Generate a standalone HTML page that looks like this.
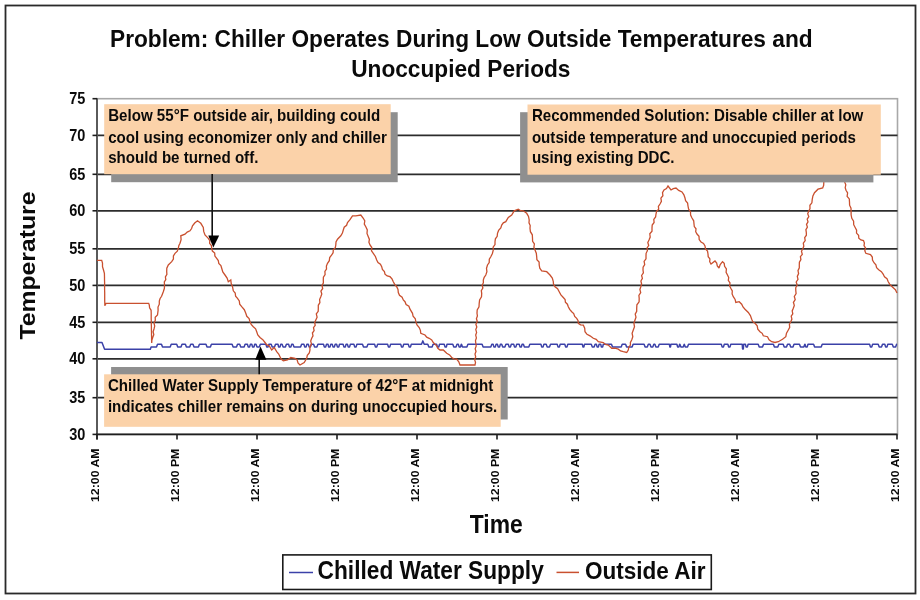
<!DOCTYPE html>
<html><head><meta charset="utf-8"><style>
html,body{margin:0;padding:0;background:#fff;width:920px;height:600px;overflow:hidden}
svg{display:block;filter:blur(0.4px)}
text{font-family:"Liberation Sans",sans-serif;font-weight:bold;fill:#0a0a0a}
</style></head><body>
<svg width="920" height="600" viewBox="0 0 920 600">
<rect x="0" y="0" width="920" height="600" fill="#fff"/>
<rect x="5.5" y="5.5" width="910" height="588" fill="none" stroke="#2a2a2a" stroke-width="1.8"/>
<rect x="97" y="98.7" width="800.5" height="335.7" fill="none" stroke="#a8a8a8" stroke-width="1.6"/>
<line x1="97" x2="897.5" y1="397.7" y2="397.7" stroke="#2c2c2c" stroke-width="1.7"/>
<line x1="97" x2="897.5" y1="358.8" y2="358.8" stroke="#2c2c2c" stroke-width="1.7"/>
<line x1="97" x2="897.5" y1="322.3" y2="322.3" stroke="#2c2c2c" stroke-width="1.7"/>
<line x1="97" x2="897.5" y1="285.4" y2="285.4" stroke="#2c2c2c" stroke-width="1.7"/>
<line x1="97" x2="897.5" y1="248.8" y2="248.8" stroke="#2c2c2c" stroke-width="1.7"/>
<line x1="97" x2="897.5" y1="210.8" y2="210.8" stroke="#2c2c2c" stroke-width="1.7"/>
<line x1="97" x2="897.5" y1="174.3" y2="174.3" stroke="#2c2c2c" stroke-width="1.7"/>
<line x1="97" x2="897.5" y1="135.4" y2="135.4" stroke="#2c2c2c" stroke-width="1.7"/>
<line x1="97" x2="97" y1="98.2" y2="439.4" stroke="#555" stroke-width="1.9"/>
<line x1="96" x2="897.5" y1="434.4" y2="434.4" stroke="#1e1e1e" stroke-width="1.8"/>
<line x1="92.5" x2="97" y1="434.4" y2="434.4" stroke="#1e1e1e" stroke-width="1.6"/>
<line x1="92.5" x2="97" y1="397.7" y2="397.7" stroke="#1e1e1e" stroke-width="1.6"/>
<line x1="92.5" x2="97" y1="358.8" y2="358.8" stroke="#1e1e1e" stroke-width="1.6"/>
<line x1="92.5" x2="97" y1="322.3" y2="322.3" stroke="#1e1e1e" stroke-width="1.6"/>
<line x1="92.5" x2="97" y1="285.4" y2="285.4" stroke="#1e1e1e" stroke-width="1.6"/>
<line x1="92.5" x2="97" y1="248.8" y2="248.8" stroke="#1e1e1e" stroke-width="1.6"/>
<line x1="92.5" x2="97" y1="210.8" y2="210.8" stroke="#1e1e1e" stroke-width="1.6"/>
<line x1="92.5" x2="97" y1="174.3" y2="174.3" stroke="#1e1e1e" stroke-width="1.6"/>
<line x1="92.5" x2="97" y1="135.4" y2="135.4" stroke="#1e1e1e" stroke-width="1.6"/>
<line x1="92.5" x2="97" y1="98.7" y2="98.7" stroke="#1e1e1e" stroke-width="1.6"/>
<line x1="97.0" x2="97.0" y1="434.4" y2="439.4" stroke="#1e1e1e" stroke-width="1.6"/>
<line x1="177.0" x2="177.0" y1="434.4" y2="439.4" stroke="#1e1e1e" stroke-width="1.6"/>
<line x1="257.0" x2="257.0" y1="434.4" y2="439.4" stroke="#1e1e1e" stroke-width="1.6"/>
<line x1="337.0" x2="337.0" y1="434.4" y2="439.4" stroke="#1e1e1e" stroke-width="1.6"/>
<line x1="417.0" x2="417.0" y1="434.4" y2="439.4" stroke="#1e1e1e" stroke-width="1.6"/>
<line x1="497.0" x2="497.0" y1="434.4" y2="439.4" stroke="#1e1e1e" stroke-width="1.6"/>
<line x1="577.0" x2="577.0" y1="434.4" y2="439.4" stroke="#1e1e1e" stroke-width="1.6"/>
<line x1="657.0" x2="657.0" y1="434.4" y2="439.4" stroke="#1e1e1e" stroke-width="1.6"/>
<line x1="737.0" x2="737.0" y1="434.4" y2="439.4" stroke="#1e1e1e" stroke-width="1.6"/>
<line x1="817.0" x2="817.0" y1="434.4" y2="439.4" stroke="#1e1e1e" stroke-width="1.6"/>
<line x1="897.0" x2="897.0" y1="434.4" y2="439.4" stroke="#1e1e1e" stroke-width="1.6"/>
<path d="M97.0 342.4 L102.0 342.4 L104.6 349.2 L150.3 349.2 L151.1 346.9 L156.5 346.9 L157.5 344.2 L161.5 344.2 L162.5 346.9 L170.2 346.9 L171.2 344.2 L176.7 344.2 L177.7 346.9 L181.0 346.9 L182.0 344.2 L185.4 344.2 L186.4 346.9 L189.7 346.9 L190.7 344.2 L193.0 344.2 L194.0 346.9 L198.4 346.9 L199.4 344.2 L206.0 344.2 L207.0 346.9 L210.4 346.9 L211.4 344.2 L232.1 344.2 L233.1 346.9 L236.5 346.9 L237.5 344.2 L239.7 344.2 L240.7 346.9 L244.1 346.9 L245.1 344.2 L247.4 344.2 L248.2 346.9 L249.6 346.9 L250.4 344.2 L251.8 344.2 L252.5 346.9 L254.0 346.9 L254.7 344.2 L256.0 344.2 L257.0 346.9 L259.3 346.9 L260.3 344.2 L265.9 344.2 L266.7 346.9 L268.1 346.9 L268.9 344.2 L271.2 344.2 L272.2 346.9 L274.5 346.9 L275.5 344.2 L278.0 344.2 L278.6 346.9 L280.0 346.9 L280.8 344.2 L282.1 344.2 L283.1 346.9 L285.4 346.9 L286.4 344.2 L288.6 344.2 L289.4 346.9 L290.9 346.9 L291.7 344.2 L293.0 344.2 L294.0 346.9 L300.6 346.9 L301.6 344.2 L303.9 344.2 L304.7 346.9 L306.1 346.9 L306.9 344.2 L308.3 344.2 L309.1 346.9 L310.5 346.9 L311.3 344.2 L313.6 344.2 L314.6 346.9 L316.9 346.9 L317.9 344.2 L323.5 344.2 L324.3 346.9 L325.7 346.9 L326.5 344.2 L328.0 344.2 L328.6 346.9 L330.0 346.9 L330.8 344.2 L332.2 344.2 L333.0 346.9 L334.4 346.9 L335.2 344.2 L336.6 344.2 L337.4 346.9 L338.8 346.9 L339.5 344.2 L343.1 344.2 L343.9 346.9 L345.3 346.9 L346.1 344.2 L347.4 344.2 L348.2 346.9 L349.6 346.9 L350.4 344.2 L353.9 344.2 L354.7 346.9 L356.1 346.9 L356.9 344.2 L362.5 344.2 L363.5 346.9 L366.9 346.9 L367.9 344.2 L374.6 344.2 L375.4 346.9 L376.8 346.9 L377.6 344.2 L387.6 344.2 L388.4 346.9 L389.8 346.9 L390.6 344.2 L400.7 344.2 L401.5 346.9 L402.9 346.9 L403.7 344.2 L408.3 344.2 L409.1 346.9 L410.5 346.9 L411.3 344.2 L421.5 344.2 L422.8 340.9 L424.2 344.2 L427.8 344.2 L428.8 346.9 L432.1 346.9 L433.1 344.2 L436.6 344.2 L437.4 346.9 L438.8 346.9 L439.5 344.2 L444.2 344.2 L445.0 346.9 L446.4 346.9 L447.0 344.2 L452.8 344.2 L453.8 346.9 L456.0 346.9 L457.0 344.2 L458.3 344.2 L459.1 346.9 L460.5 346.9 L461.3 344.2 L461.5 344.2 L462.5 346.9 L466.9 346.9 L467.9 344.2 L482.1 344.2 L483.1 346.9 L490.8 346.9 L491.8 344.2 L493.1 344.2 L493.9 346.9 L495.3 346.9 L496.1 344.2 L497.4 344.2 L498.2 346.9 L499.6 346.9 L500.4 344.2 L501.7 344.2 L502.7 346.9 L504.9 346.9 L505.9 344.2 L508.3 344.2 L509.1 346.9 L510.5 346.9 L511.3 344.2 L513.7 344.2 L514.5 346.9 L515.9 346.9 L516.7 344.2 L519.2 344.2 L520.0 346.9 L521.4 346.9 L522.1 344.2 L523.4 344.2 L524.4 346.9 L528.8 346.9 L529.8 344.2 L540.9 344.2 L541.7 346.9 L543.1 346.9 L543.9 344.2 L546.2 344.2 L547.2 346.9 L549.5 346.9 L550.5 344.2 L557.2 344.2 L558.0 346.9 L559.4 346.9 L560.2 344.2 L564.8 344.2 L565.6 346.9 L567.0 346.9 L567.8 344.2 L582.3 344.2 L582.9 346.9 L583.9 346.9 L584.5 344.2 L591.3 344.2 L592.3 346.9 L594.1 346.9 L595.1 344.2 L596.4 344.2 L597.1 346.9 L598.4 346.9 L599.1 344.2 L600.7 344.2 L601.3 346.9 L602.7 346.9 L603.3 344.2 L611.5 344.2 L612.5 346.9 L621.2 346.9 L622.2 344.2 L625.6 344.2 L626.6 346.9 L632.1 346.9 L633.1 344.2 L644.1 344.2 L645.1 346.9 L647.3 346.9 L648.3 344.2 L650.0 344.2 L651.0 346.9 L652.8 346.9 L653.8 344.2 L654.9 344.2 L655.9 346.9 L658.2 346.9 L659.2 344.2 L669.4 344.2 L669.8 346.9 L670.5 346.9 L670.9 344.2 L676.9 344.2 L677.6 346.9 L678.9 346.9 L679.6 344.2 L679.9 344.2 L680.9 346.9 L683.2 346.9 L684.2 344.2 L684.3 344.2 L685.3 346.9 L687.5 346.9 L688.5 344.2 L721.3 344.2 L722.1 346.9 L723.5 346.9 L724.3 344.2 L727.9 344.2 L728.6 346.9 L730.0 346.9 L730.8 344.2 L742.2 344.2 L742.6 349.0 L743.3 349.0 L743.7 344.2 L745.4 344.2 L746.1 346.9 L747.4 346.9 L748.1 344.2 L758.2 344.2 L759.2 346.9 L762.5 346.9 L763.5 344.2 L773.4 344.2 L774.4 346.9 L777.8 346.9 L778.8 344.2 L783.2 344.2 L784.2 346.9 L786.5 346.9 L787.5 344.2 L789.7 344.2 L790.7 346.9 L793.0 346.9 L794.0 344.2 L799.5 344.2 L800.5 346.9 L803.8 346.9 L804.8 344.2 L805.0 344.2 L805.8 346.9 L807.2 346.9 L808.0 344.2 L813.6 344.2 L814.6 346.9 L821.2 346.9 L822.2 344.2 L869.6 344.2 L870.4 346.9 L871.8 346.9 L872.6 344.2 L878.2 344.2 L879.2 346.9 L881.5 346.9 L882.5 344.2 L884.8 344.2 L885.6 346.9 L887.0 346.9 L887.8 344.2 L892.3 344.2 L893.3 346.9 L895.6 346.9 L896.6 344.2 L897.0 344.2" fill="none" stroke="#3b41a8" stroke-width="1.5" stroke-linejoin="round"/>
<path d="M97.0 260.3 L101.7 260.3 L102.5 263.0 L102.5 266.6 L103.5 270.0 L104.4 273.4 L104.5 277.0 L104.5 279.6 L104.6 282.2 L104.6 284.9 L104.6 287.5 L104.6 290.1 L104.7 292.7 L104.7 295.3 L104.7 297.9 L104.7 300.6 L104.8 303.2 L104.8 305.8 L106.0 303.4 L108.7 303.4 L111.3 303.4 L114.0 303.4 L116.7 303.4 L119.3 303.4 L122.0 303.4 L124.7 303.4 L127.3 303.4 L130.0 303.4 L132.7 303.4 L135.4 303.4 L138.0 303.4 L140.7 303.4 L143.4 303.4 L146.0 303.4 L148.7 303.4 L149.3 305.1 L149.6 307.9 L151.1 310.3 L151.2 313.0 L151.2 315.8 L151.2 318.5 L151.3 321.2 L151.3 323.9 L151.4 326.6 L151.4 329.4 L151.5 332.1 L151.5 334.8 L151.6 337.6 L151.6 340.3 L151.7 343.0 L151.9 340.0 L152.8 337.2 L153.8 334.6 L153.1 331.7 L154.0 329.0 L154.7 326.1 L154.0 323.1 L155.3 320.3 L155.2 317.3 L157.5 315.0 L158.1 310.3 L158.0 307.1 L159.3 304.2 L159.3 301.0 L160.1 298.5 L161.6 296.3 L163.3 291.7 L164.4 288.3 L164.5 284.7 L164.3 282.0 L165.8 279.6 L165.4 276.8 L166.9 274.4 L166.7 271.7 L166.8 268.2 L168.3 265.0 L171.7 261.7 L173.4 259.1 L173.4 255.9 L175.0 253.3 L177.3 251.2 L178.3 248.3 L178.8 245.7 L180.0 243.3 L181.1 239.6 L180.8 235.8 L185.0 234.2 L187.2 232.1 L190.0 230.8 L191.6 228.5 L192.5 225.8 L194.7 223.0 L197.5 220.8 L200.8 223.3 L203.3 227.5 L203.7 231.4 L205.0 235.0 L208.3 238.3 L209.8 240.6 L209.6 243.4 L211.4 245.6 L211.7 248.3 L212.4 251.1 L214.7 253.1 L214.9 256.1 L216.7 258.3 L218.3 260.6 L218.8 263.5 L220.9 265.6 L221.7 268.3 L222.8 271.9 L225.0 275.0 L227.1 278.1 L228.3 281.7 L230.8 280.0 L231.2 283.5 L232.5 286.7 L233.3 290.8 L235.2 293.0 L235.6 296.1 L237.5 298.3 L239.3 300.9 L239.7 304.2 L241.7 306.7 L244.3 309.7 L245.8 313.3 L246.8 316.3 L249.1 318.6 L250.0 321.7 L251.2 324.5 L253.3 326.7 L255.6 328.8 L256.7 331.7 L257.8 334.9 L260.0 337.5 L262.8 339.7 L265.0 342.5 L266.6 344.7 L269.2 345.8 L271.7 350.0 L274.2 347.5 L276.7 351.7 L278.7 354.0 L280.0 356.7 L281.2 359.1 L283.3 360.8 L287.5 360.0 L290.8 357.5 L295.0 358.3 L297.2 360.1 L298.0 363.0 L300.0 365.0 L304.2 362.5 L306.7 358.3 L307.3 355.3 L309.3 352.9 L310.0 350.0 L309.8 347.0 L311.5 344.2 L310.7 341.1 L311.7 338.3 L313.0 335.8 L312.4 333.0 L314.1 330.6 L313.5 327.7 L315.2 325.4 L314.7 322.5 L315.8 320.0 L317.1 317.2 L316.3 314.0 L318.2 311.3 L318.3 308.3 L318.3 305.3 L319.9 302.6 L319.6 299.5 L320.8 296.7 L321.8 294.0 L320.9 291.0 L322.7 288.5 L322.0 285.5 L323.4 282.9 L323.3 280.0 L323.4 277.1 L325.1 274.5 L324.9 271.5 L326.5 269.0 L326.4 266.0 L327.5 263.3 L329.3 260.7 L329.7 257.5 L331.7 255.0 L333.1 252.7 L333.3 249.8 L335.3 247.7 L335.8 245.0 L336.0 241.9 L337.5 239.2 L340.8 235.8 L342.4 233.1 L343.3 230.0 L344.2 227.2 L346.6 225.3 L347.5 222.5 L350.0 219.7 L352.5 215.8 L355.8 215.8 L360.8 215.0 L363.3 218.3 L364.8 220.9 L364.3 224.1 L365.8 226.7 L367.3 229.9 L367.0 233.5 L368.3 236.7 L369.4 239.4 L368.9 242.3 L370.0 245.0 L371.8 247.5 L371.5 250.8 L373.3 253.3 L375.4 256.5 L376.7 260.0 L378.0 262.5 L380.4 264.2 L381.7 266.7 L382.4 269.4 L384.4 271.5 L385.0 274.2 L387.2 276.0 L390.0 276.7 L392.0 278.9 L393.3 281.7 L394.7 284.4 L396.7 286.7 L398.0 289.5 L398.3 292.5 L399.5 295.3 L402.1 297.2 L403.3 300.0 L405.0 301.7 L406.1 304.6 L408.9 306.3 L410.0 309.2 L412.5 313.3 L413.1 316.3 L415.3 318.7 L415.8 321.7 L417.0 324.9 L419.2 327.5 L420.4 330.3 L420.8 333.3 L425.0 335.0 L426.7 337.2 L429.2 338.3 L431.7 339.9 L433.3 342.5 L436.7 345.8 L437.8 348.3 L440.0 350.0 L443.3 350.0 L446.7 353.3 L449.6 354.9 L451.7 357.5 L454.0 358.8 L456.7 359.2 L458.8 361.8 L460.0 365.0 L463.0 365.0 L466.0 365.0 L469.0 365.0 L472.0 365.0 L475.0 365.0 L475.5 362.3 L474.6 359.6 L475.7 356.9 L475.0 354.1 L476.0 351.5 L475.2 348.7 L476.2 346.0 L475.8 343.3 L475.5 340.6 L476.4 337.9 L475.7 335.1 L476.6 332.4 L475.8 329.6 L476.8 327.0 L475.9 324.2 L477.3 321.5 L476.4 318.7 L477.4 316.0 L477.0 313.3 L477.2 309.9 L479.0 306.7 L479.2 303.3 L479.6 299.9 L481.5 296.8 L481.7 293.3 L481.3 290.6 L482.9 288.0 L482.1 285.3 L483.4 282.7 L483.3 280.0 L484.2 277.3 L485.8 275.0 L486.9 271.8 L486.5 268.3 L487.5 265.0 L489.2 262.5 L489.3 259.3 L490.8 256.7 L492.4 253.5 L493.3 250.0 L493.1 247.1 L495.0 244.6 L495.0 241.7 L495.4 238.8 L497.2 236.3 L497.5 233.3 L498.6 230.4 L500.8 228.0 L501.7 225.0 L503.3 222.8 L505.8 221.7 L508.3 217.5 L511.7 215.0 L514.2 210.8 L518.3 209.2 L520.6 210.7 L523.3 210.8 L526.7 213.3 L528.5 216.4 L529.2 220.0 L529.0 222.8 L530.2 225.5 L530.0 228.3 L530.4 231.7 L532.3 234.8 L532.5 238.3 L532.6 241.3 L534.4 244.0 L533.9 247.2 L535.0 250.0 L536.3 253.2 L536.7 256.7 L536.9 259.7 L539.1 262.0 L539.2 265.0 L539.8 268.2 L541.7 270.8 L546.7 271.7 L550.0 275.0 L552.3 278.1 L553.3 281.7 L553.5 284.4 L555.0 286.7 L557.6 288.8 L559.2 291.7 L560.9 294.9 L563.3 297.5 L565.1 299.5 L565.4 302.3 L567.4 304.2 L568.3 306.7 L569.7 309.4 L571.7 311.7 L573.7 313.6 L574.7 316.4 L576.7 318.3 L578.1 320.6 L578.3 323.3 L580.6 324.8 L583.3 325.0 L584.7 328.2 L585.0 331.7 L587.0 334.3 L590.0 335.8 L593.3 338.3 L596.2 339.4 L598.3 341.7 L603.3 342.5 L605.5 344.4 L608.3 345.0 L611.7 348.3 L615.1 348.2 L618.3 349.2 L620.6 350.9 L623.3 351.7 L626.7 352.5 L628.3 350.0 L628.7 347.4 L630.4 345.1 L630.4 342.4 L631.7 340.0 L632.8 336.8 L632.1 333.2 L633.3 330.0 L634.5 326.8 L633.9 323.2 L635.0 320.0 L636.0 317.2 L635.2 314.1 L636.7 311.3 L636.7 308.3 L636.9 304.8 L639.1 301.8 L639.2 298.3 L638.9 295.3 L640.7 292.6 L639.9 289.5 L640.8 286.7 L641.6 284.0 L640.9 281.0 L642.4 278.4 L641.6 275.5 L643.4 272.9 L643.0 270.0 L643.1 267.1 L644.7 264.5 L644.1 261.4 L646.0 258.9 L646.0 256.0 L646.1 253.3 L647.4 250.7 L647.1 247.9 L648.7 245.5 L647.8 242.5 L649.0 240.0 L650.2 237.1 L649.8 233.8 L652.0 231.2 L652.0 228.0 L652.2 225.0 L654.1 222.5 L653.8 219.4 L655.6 216.9 L656.0 214.0 L656.6 211.4 L658.7 209.3 L658.4 206.3 L660.0 204.0 L661.4 201.4 L660.9 198.2 L662.9 195.7 L662.5 192.6 L664.0 190.0 L666.5 188.5 L668.0 186.0 L671.0 190.0 L673.3 188.6 L676.0 188.0 L678.7 190.4 L682.0 192.0 L683.9 194.8 L685.0 198.0 L685.6 200.8 L687.6 203.1 L688.0 206.0 L688.6 209.1 L690.5 211.8 L690.6 215.1 L692.0 218.0 L693.7 220.8 L694.0 224.0 L694.3 226.6 L696.0 228.8 L695.7 231.7 L697.0 234.0 L699.0 236.3 L699.2 239.6 L701.0 242.0 L703.5 243.5 L705.0 246.0 L705.5 248.9 L707.5 251.1 L708.0 254.0 L708.2 256.7 L709.9 258.9 L709.7 261.7 L711.0 264.0 L715.0 261.0 L716.7 263.1 L717.3 265.9 L719.0 268.0 L720.2 264.5 L722.5 261.7 L724.2 263.3 L724.6 266.3 L726.4 269.0 L726.1 272.3 L727.5 275.0 L728.7 277.5 L728.3 280.4 L730.0 282.8 L729.6 285.8 L730.8 288.3 L732.3 290.9 L732.1 294.0 L733.3 296.7 L735.1 299.4 L735.8 302.5 L739.2 301.7 L741.7 304.2 L743.0 307.0 L745.0 309.2 L748.3 312.5 L750.4 315.6 L751.7 319.2 L752.8 321.7 L755.0 323.3 L757.2 325.8 L757.8 329.2 L760.0 331.7 L762.2 333.3 L763.3 335.8 L767.5 336.7 L769.1 339.7 L771.7 341.7 L775.0 342.5 L778.3 341.7 L782.5 339.2 L785.8 336.7 L786.5 333.2 L788.3 330.0 L789.7 327.4 L789.4 324.3 L790.8 321.7 L791.9 319.1 L791.2 316.2 L792.8 313.8 L792.2 310.9 L793.3 308.3 L794.3 305.4 L793.4 302.3 L795.2 299.6 L794.3 296.5 L796.1 293.7 L795.8 290.7 L795.7 287.8 L797.2 285.1 L796.2 282.0 L798.0 279.4 L797.3 276.4 L798.6 273.6 L798.0 270.6 L799.3 267.9 L799.3 265.0 L799.4 262.2 L800.9 259.7 L800.4 256.7 L802.3 254.3 L801.5 251.3 L802.8 248.7 L803.8 246.1 L803.3 243.1 L805.2 240.6 L804.7 237.7 L806.4 235.2 L806.3 232.3 L805.9 229.6 L807.4 227.1 L806.5 224.3 L808.0 221.9 L807.2 219.1 L808.8 216.6 L807.7 213.8 L808.7 211.3 L810.0 208.5 L809.9 205.3 L811.9 202.8 L812.2 199.7 L812.9 196.0 L814.5 192.7 L818.0 189.2 L822.7 188.0 L823.7 185.1 L823.8 182.0 L824.1 178.6 L825.9 175.5 L826.0 172.0 L827.7 169.7 L830.4 168.4 L832.0 166.0 L835.2 166.5 L838.0 168.0 L839.7 170.6 L842.4 172.3 L844.0 175.0 L843.8 178.7 L844.8 182.2 L845.8 184.8 L845.2 187.7 L846.0 190.3 L847.6 193.0 L847.1 196.3 L849.3 198.9 L849.5 202.0 L849.6 205.2 L851.0 208.1 L851.1 211.3 L851.1 214.8 L851.8 218.3 L853.6 221.2 L853.7 224.7 L855.3 227.7 L856.6 230.2 L856.5 233.1 L858.6 235.3 L858.8 238.2 L860.9 240.0 L863.5 240.5 L864.4 243.0 L864.0 245.7 L865.6 248.1 L864.8 250.8 L865.8 253.3 L870.5 254.5 L872.3 257.0 L872.5 260.1 L874.0 262.7 L875.9 264.8 L876.6 267.7 L878.7 269.7 L881.4 271.6 L883.3 274.3 L884.5 276.9 L887.0 278.6 L888.0 281.3 L889.9 284.6 L892.7 287.2 L895.4 289.7 L897.0 293.0" fill="none" stroke="#c9502f" stroke-width="1.3" stroke-linejoin="miter" stroke-miterlimit="2"/>
<rect x="111.2" y="112.2" width="286.5" height="70.0" fill="#8f8f8f"/>
<rect x="104.2" y="104.2" width="286.5" height="70.0" fill="#fbd2a9"/>
<rect x="520.1" y="112.2" width="353.3" height="70.2" fill="#8f8f8f"/>
<rect x="527.5" y="104.5" width="353.3" height="70.2" fill="#fbd2a9"/>
<rect x="111.1" y="367.0" width="396.6" height="52.5" fill="#8f8f8f"/>
<rect x="104.1" y="374.3" width="396.6" height="52.5" fill="#fbd2a9"/>
<text transform="translate(108.20 120.60) scale(1 1.100)" font-size="15.12" text-anchor="start">Below 55°F outside air, building could</text>
<text transform="translate(108.20 143.30) scale(1 1.100)" font-size="15.12" text-anchor="start">cool using economizer only and chiller</text>
<text transform="translate(108.20 162.90) scale(1 1.100)" font-size="15.12" text-anchor="start">should be turned off.</text>
<text transform="translate(531.90 120.70) scale(1 1.100)" font-size="15.12" text-anchor="start">Recommended Solution: Disable chiller at low</text>
<text transform="translate(531.90 143.30) scale(1 1.100)" font-size="15.12" text-anchor="start">outside temperature and unoccupied periods</text>
<text transform="translate(531.90 162.70) scale(1 1.100)" font-size="15.12" text-anchor="start">using existing DDC.</text>
<text transform="translate(107.90 391.00) scale(1 1.100)" font-size="15.12" text-anchor="start">Chilled Water Supply Temperature of 42°F at midnight</text>
<text transform="translate(107.90 411.70) scale(1 1.100)" font-size="15.12" text-anchor="start">indicates chiller remains on during unoccupied hours.</text>
<line x1="212.2" x2="212.2" y1="174" y2="238" stroke="#111" stroke-width="1.6"/>
<path d="M208.3 235.6 L219.2 235.6 L213.3 247.4 Z" fill="#000"/>
<line x1="259.2" x2="259.2" y1="374.3" y2="358" stroke="#111" stroke-width="1.6"/>
<path d="M255.2 359.8 L266.4 359.8 L260.5 346.6 Z" fill="#000"/>
<text transform="translate(461.30 47.30) scale(1 1.053)" font-size="22.69" text-anchor="middle">Problem: Chiller Operates During Low Outside Temperatures and</text>
<text transform="translate(460.80 77.40) scale(1 1.060)" font-size="22.69" text-anchor="middle">Unoccupied Periods</text>
<text transform="translate(85.30 440.00) scale(1 1.100)" font-size="14.50" text-anchor="end">30</text>
<text transform="translate(85.30 403.30) scale(1 1.100)" font-size="14.50" text-anchor="end">35</text>
<text transform="translate(85.30 364.40) scale(1 1.100)" font-size="14.50" text-anchor="end">40</text>
<text transform="translate(85.30 327.90) scale(1 1.100)" font-size="14.50" text-anchor="end">45</text>
<text transform="translate(85.30 291.00) scale(1 1.100)" font-size="14.50" text-anchor="end">50</text>
<text transform="translate(85.30 254.40) scale(1 1.100)" font-size="14.50" text-anchor="end">55</text>
<text transform="translate(85.30 216.40) scale(1 1.100)" font-size="14.50" text-anchor="end">60</text>
<text transform="translate(85.30 179.90) scale(1 1.100)" font-size="14.50" text-anchor="end">65</text>
<text transform="translate(85.30 141.00) scale(1 1.100)" font-size="14.50" text-anchor="end">70</text>
<text transform="translate(85.30 104.30) scale(1 1.100)" font-size="14.50" text-anchor="end">75</text>
<text transform="translate(98.60 502.00) rotate(-90) scale(1.100 1)" font-size="11.20" text-anchor="start">12:00 AM</text>
<text transform="translate(178.60 502.00) rotate(-90) scale(1.100 1)" font-size="11.20" text-anchor="start">12:00 PM</text>
<text transform="translate(258.60 502.00) rotate(-90) scale(1.100 1)" font-size="11.20" text-anchor="start">12:00 AM</text>
<text transform="translate(338.60 502.00) rotate(-90) scale(1.100 1)" font-size="11.20" text-anchor="start">12:00 PM</text>
<text transform="translate(418.60 502.00) rotate(-90) scale(1.100 1)" font-size="11.20" text-anchor="start">12:00 AM</text>
<text transform="translate(498.60 502.00) rotate(-90) scale(1.100 1)" font-size="11.20" text-anchor="start">12:00 PM</text>
<text transform="translate(578.60 502.00) rotate(-90) scale(1.100 1)" font-size="11.20" text-anchor="start">12:00 AM</text>
<text transform="translate(658.60 502.00) rotate(-90) scale(1.100 1)" font-size="11.20" text-anchor="start">12:00 PM</text>
<text transform="translate(738.60 502.00) rotate(-90) scale(1.100 1)" font-size="11.20" text-anchor="start">12:00 AM</text>
<text transform="translate(818.60 502.00) rotate(-90) scale(1.100 1)" font-size="11.20" text-anchor="start">12:00 PM</text>
<text transform="translate(898.60 502.00) rotate(-90) scale(1.100 1)" font-size="11.20" text-anchor="start">12:00 AM</text>
<text transform="translate(34.90 265.60) rotate(-90) scale(1.100 1)" font-size="22.50" text-anchor="middle">Temperature</text>
<text transform="translate(496.20 533.30) scale(1 1.100)" font-size="22.90" text-anchor="middle">Time</text>
<rect x="282.8" y="554.9" width="428.5" height="34.6" fill="#fff" stroke="#1a1a1a" stroke-width="1.6"/>
<line x1="289" x2="313" y1="572.5" y2="572.5" stroke="#3b41a8" stroke-width="1.5"/>
<line x1="556.5" x2="579" y1="572.4" y2="572.4" stroke="#c9502f" stroke-width="1.5"/>
<text transform="translate(317.60 579.30) scale(1 1.100)" font-size="22.70" text-anchor="start">Chilled Water Supply</text>
<text transform="translate(585.00 579.30) scale(1 1.100)" font-size="22.55" text-anchor="start">Outside Air</text>
</svg>
</body></html>
